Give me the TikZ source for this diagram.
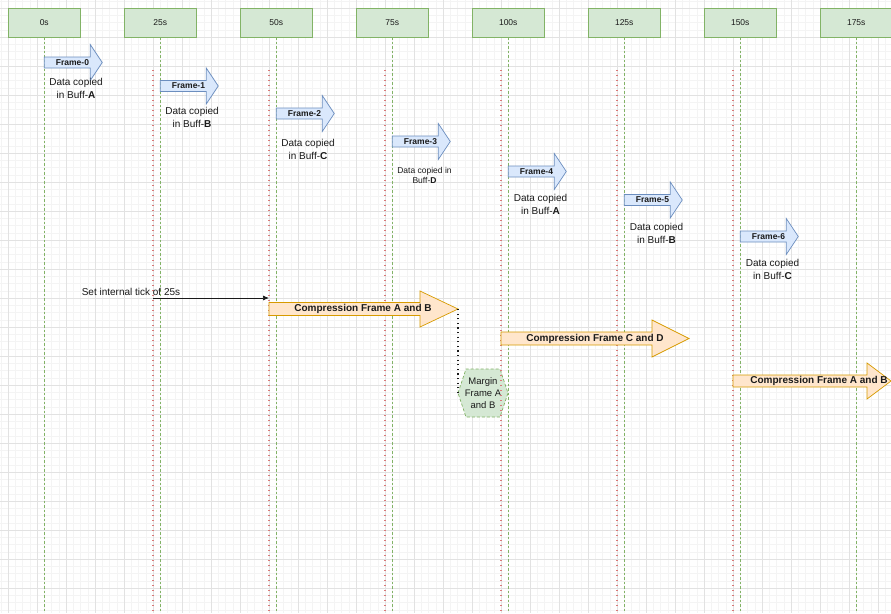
\documentclass[tikz,border=0pt]{standalone}
\usepackage{fontspec}
\setmainfont{Liberation Sans}
\usetikzlibrary{arrows.meta}

\definecolor{hdrfill}{HTML}{D5E8D4}
\definecolor{hdrline}{HTML}{82B366}
\definecolor{frfill}{HTML}{DAE8FC}
\definecolor{frline}{HTML}{6C8EBF}
\definecolor{cpfill}{HTML}{FFE6CC}
\definecolor{cpline}{HTML}{D79B00}
\definecolor{tickred}{HTML}{D87878}
\definecolor{gridmajor}{HTML}{E2E2E2}
\definecolor{gridminor}{HTML}{F4F4F4}
\definecolor{ink}{HTML}{1A1A1A}

\tikzset{
  % block arrow: total length / head length / half shaft width / half head width
  pics/fatarrow/.style args={#1/#2/#3/#4}{code={%
    \path[pic actions] (0,-#3) -- ({#1-#2},-#3) -- ({#1-#2},-#4) -- (#1,0)
      -- ({#1-#2},#4) -- ({#1-#2},#3) -- (0,#3) -- cycle;}},
  hdrbox/.style={draw=hdrline, fill=hdrfill, line width=0.7pt,
    minimum width=72.5pt, minimum height=29pt, inner sep=0pt,
    font=\fontsize{8.5}{10}\selectfont, text=ink},
  frameshape/.style={draw=frline, fill=frfill, line width=0.7pt},
  cpshape/.style={draw=cpline, fill=cpfill, line width=0.7pt},
  framelabel/.style={font=\fontsize{8.5}{10}\selectfont\bfseries, text=ink, inner sep=0pt},
  cplabel/.style={font=\fontsize{10}{12}\selectfont\bfseries, text=ink, inner sep=0pt},
  note/.style={align=center, font=\fontsize{10}{13}\selectfont, text=ink, inner sep=0pt},
  smallnote/.style={align=center, font=\fontsize{8.5}{10}\selectfont, text=ink, inner sep=0pt},
  marginnote/.style={align=center, font=\fontsize{9.5}{12}\selectfont, text=ink, inner sep=0pt},
  greenline/.style={hdrline, line width=0.6pt, dash pattern=on 2.5pt off 2pt},
  redline/.style={tickred, line width=1.2pt, dash pattern=on 1.2pt off 3.8pt},
  blackdots/.style={ink, line width=1.2pt, dash pattern=on 1.2pt off 3.4pt},
  marginshape/.style={draw=hdrline, fill=hdrfill, line width=0.7pt, dash pattern=on 3pt off 2pt},
  tickarrow/.style={ink, line width=0.7pt, -{Latex[length=6pt,width=5pt]}},
}

\begin{document}
\begin{tikzpicture}[x=1pt, y=-1pt]
\clip (0,0) rectangle (891,613);
\fill[white] (0,0) rectangle (891,613);
\coordinate (bot) at (0,613);

% background grid
\foreach \k in {-1,...,122}
  \draw[gridminor, line width=0.5pt] ({8+7.25*\k},0) -- ({8+7.25*\k},613);
\foreach \k in {-1,...,84}
  \draw[gridminor, line width=0.5pt] (0,{8+7.25*\k}) -- (891,{8+7.25*\k});
\foreach \k in {0,...,30}
  \draw[gridmajor, line width=0.6pt] ({8+29*\k},0) -- ({8+29*\k},613);
\foreach \k in {0,...,20}
  \draw[gridmajor, line width=0.6pt] (0,{8+29*\k}) -- (891,{8+29*\k});

% margin between compression runs
\draw[marginshape] (458,393) coordinate (mleft) -- (466,369) -- (500,369)
  -- (508,393) -- (500,417) -- (466,417) -- cycle;
\node[marginnote] (margin) at (483,393) {Margin\\Frame A\\and B};

% time headers with their guide lines
\foreach \i/\t in {0/0s,1/25s,2/50s,3/75s,4/100s,5/125s,6/150s,7/175s} {
  \node[hdrbox] (h\i) at ({44.25+116*\i},22.5) {\t};
  \draw[greenline] (h\i.south) -- (h\i.south |- bot);
}
% tick markers
\foreach \i in {1,...,6} {
  \coordinate (r\i) at ({153+116*(\i-1)},70);
  \draw[redline] (r\i) -- (r\i |- bot);
}

% frame arrivals
\foreach \i/\yc in {0/62.5,1/86,2/113.5,3/141.5,4/171.5,5/200,6/236.5} {
  \pic[frameshape] at ({44.25+116*\i},\yc) {fatarrow=58/12/5.5/18};
  \node[framelabel] (fl\i) at ({72.5+116*\i},\yc) {Frame-\i};
}
\node[note] (fn0) at (76,88.5)  {Data copied\\in Buff-\textbf{A}};
\node[note] (fn1) at (192,117.5) {Data copied\\in Buff-\textbf{B}};
\node[note] (fn2) at (308,149.5) {Data copied\\in Buff-\textbf{C}};
\node[smallnote] (fn3) at (424.5,175) {Data copied in\\Buff-\textbf{D}};
\node[note] (fn4) at (540.5,204.5) {Data copied\\in Buff-\textbf{A}};
\node[note] (fn5) at (656.5,233.5) {Data copied\\in Buff-\textbf{B}};
\node[note] (fn6) at (772.5,269.5) {Data copied\\in Buff-\textbf{C}};

% compression runs
\pic[cpshape] at (269,309) {fatarrow=189/38/6.5/18};
\node[cplabel] (cp1) at (363,309) {Compression Frame A and B};
\coordinate (cp1tip) at (458,309);
\pic[cpshape] at (501,338.5) {fatarrow=188/37/6.5/18.5};
\node[cplabel] (cp2) at (595,338.5) {Compression Frame C and D};
\pic[cpshape] at (733,381) {fatarrow=158/24/6/18};
\node[cplabel] (cp3) at (819,381) {Compression Frame A and B};

\draw[blackdots] (cp1tip) -- (mleft);

% internal tick
\node[note] (tick) at (131,292) {Set internal tick of 25s};
\coordinate (tickstart) at (153,298);
\coordinate (tickend) at (269,298);
\draw[tickarrow] (tickstart) -- (tickend);
\end{tikzpicture}
\end{document}
